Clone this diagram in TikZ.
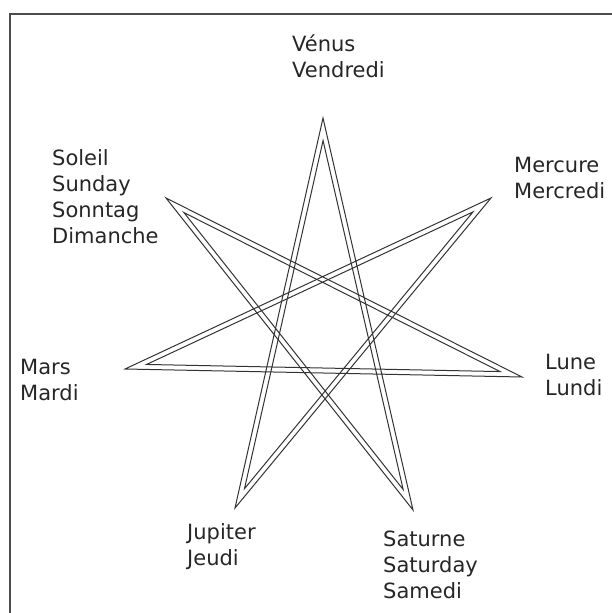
\documentclass[tikz,border=0pt]{standalone}
\usepackage{fontspec}
\setmainfont{DejaVu Sans}
\usetikzlibrary{calc}
\tikzset{
  band/.style  ={draw=black!80, line width=1pt, line join=miter},
  day/.style   ={align=left, inner sep=0pt, anchor=base west, text=black!85,
                 font=\fontsize{21}{26}\selectfont},
  frame/.style ={draw=black!70, line width=1.2pt},
}
\newcommand{\bandw}{5pt}

\begin{document}
\begin{tikzpicture}[x=1pt, y=-1pt]
  \useasboundingbox (0,0) rectangle (612,613);
  \draw[frame] (10,613) -- (10,14) -- (612,14);

  % tips of the heptagram
  \coordinate (venus)   at (323,118);
  \coordinate (mercure) at (491,198);
  \coordinate (lune)    at (522,377);
  \coordinate (saturne) at (413,510);
  \coordinate (jupiter) at (235,508);
  \coordinate (mars)    at (125,369);
  \coordinate (soleil)  at (166,198);

  % every edge shifted to its inner side
  \foreach \a/\b [count=\i] in {venus/saturne, saturne/soleil, soleil/lune,
      lune/mars, mars/mercure, mercure/jupiter, jupiter/venus} {
    \coordinate (s\i) at ($(\a)!\bandw!-90:(\b)$);
    \coordinate (t\i) at ($(\b)!\bandw!90:(\a)$);
  }
  \foreach \i/\j in {7/1, 1/2, 2/3, 3/4, 4/5, 5/6, 6/7}
    \coordinate (in\j) at (intersection cs: first line={(s\i)--(t\i)},
                                            second line={(s\j)--(t\j)});

  \draw[band] (venus) -- (saturne) -- (soleil) -- (lune) -- (mars)
    -- (mercure) -- (jupiter) -- cycle;
  \draw[band] (in1) -- (in2) -- (in3) -- (in4) -- (in5) -- (in6) -- (in7) -- cycle;

  % days (placed at the baseline of the last line)
  \node[day] (venusl)   at (292,77)  {Vénus\\Vendredi};
  \node[day] (mercurel) at (514,198) {Mercure\\Mercredi};
  \node[day] (lunel)    at (545,395) {Lune\\Lundi};
  \node[day] (saturnel) at (383,598) {Saturne\\Saturday\\Samedi};
  \node[day] (jupiterl) at (187,565) {Jupiter\\Jeudi};
  \node[day] (marsl)    at (20,400)  {Mars\\Mardi};
  \node[day] (soleill)  at (52,243)  {Soleil\\Sunday\\Sonntag\\Dimanche};
\end{tikzpicture}
\end{document}
